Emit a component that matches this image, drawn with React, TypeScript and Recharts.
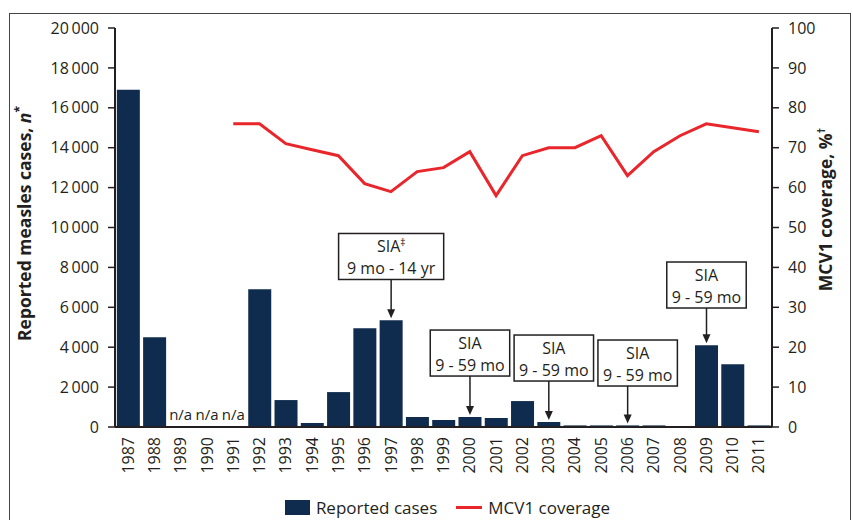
import { ComposedChart, Bar, Line, XAxis, YAxis, Legend, LabelList, ReferenceDot } from 'recharts';

const years = ['1987', '1988', '1989', '1990', '1991', '1992', '1993', '1994', '1995', '1996', '1997', '1998', '1999',
  '2000', '2001', '2002', '2003', '2004', '2005', '2006', '2007', '2008', '2009', '2010', '2011'];
const reportedCases = [16900, 4500, 0, 0, 0, 6900, 1350, 200, 1750, 4950, 5350, 500, 350,
  500, 450, 1300, 250, 80, 80, 80, 80, 0, 4100, 3150, 80];
const mcv1Coverage = [null, null, null, null, 76, 76, 71, 69.5, 68, 61, 59, 64, 65,
  69, 58, 68, 70, 70, 73, 63, 69, 73, 76, 75, 74];
const naYears = ['1989', '1990', '1991'];

const casesTicks = [0, 2000, 4000, 6000, 8000, 10000, 12000, 14000, 16000, 18000, 20000];
const coverageTicks = [0, 10, 20, 30, 40, 50, 60, 70, 80, 90, 100];

// SIA call-outs, box top given in reported-cases units
const siaYears = ['1997', '2000', '2003', '2006', '2009'];
const siaMarks = ['‡', '', '', '', ''];
const siaAges = ['9 mo - 14 yr', '9 - 59 mo', '9 - 59 mo', '9 - 59 mo', '9 - 59 mo'];
const siaBoxTop = [9700, 4860, 4610, 4360, 8270];

const data = years.map((year, i) => ({ year, cases: reportedCases[i], coverage: mcv1Coverage[i] }));

const FONT = "'Open Sans', 'Noto Sans', sans-serif";
const INK = '#231f20';
const NAVY = '#0f2b4d';
const RED = '#e8262b';
const boxShift: Record<string, number> = { '2003': 5, '2006': 10 };

const fmt = (v: number) => (v >= 1000 ? `${Math.floor(v / 1000)}\u2009${String(v % 1000).padStart(3, '0')}` : `${v}`);

// label value is the year; bar geometry gives the scale
const SiaLabel = (props: any) => {
  const vb = props.viewBox ?? props;
  const { x, y, width, height } = vb;
  const year = String(props.value);
  const k = siaYears.indexOf(year);
  const cases = reportedCases[years.indexOf(year)];
  if (k < 0 || !cases || !height) return null;
  const pxPerUnit = height / cases;
  const base = y + height;
  const top = base - siaBoxTop[k] * pxPerUnit;
  const cx = x + width / 2;
  const w = siaAges[k].length * 8.55 + 2.5;
  const bx = cx + (boxShift[year] ?? 0) - w / 2;
  const bh = 46;
  const tip = y - 2;
  return (
    <g>
      <rect x={bx} y={top} width={w} height={bh} fill="#fff" stroke={INK} strokeWidth={1.5} />
      <text x={bx + w / 2} y={top + 19} textAnchor="middle" fontSize={16} fill={INK} fontFamily={FONT}>
        SIA{siaMarks[k] && <tspan dy={-6} fontSize={10}>{siaMarks[k]}</tspan>}
      </text>
      <text x={bx + w / 2} y={top + 41} textAnchor="middle" fontSize={16} fill={INK} fontFamily={FONT}>
        {siaAges[k]}
      </text>
      <line x1={cx} y1={top + bh} x2={cx} y2={tip - 8} stroke={INK} strokeWidth={1.5} />
      <polygon points={`${cx - 4},${tip - 9} ${cx + 4},${tip - 9} ${cx},${tip}`} fill={INK} />
    </g>
  );
};

const YearTick = ({ x, y, payload }: any) => (
  <text x={x} y={y} transform={`rotate(-90, ${x}, ${y})`} textAnchor="end" dy="0.35em"
    fontSize={16} fill={INK} fontFamily={FONT}>
    {payload.value}
  </text>
);

const LegendContent = () => (
  <div style={{ height: 30, display: 'flex', alignItems: 'center', justifyContent: 'center', paddingLeft: 42,
    paddingTop: 4, boxSizing: 'border-box', fontFamily: FONT, fontSize: 17, color: INK }}>
    <span style={{ width: 25, height: 15, background: NAVY, display: 'inline-block', marginRight: 6 }} />
    <span>Reported cases</span>
    <span style={{ width: 26, height: 3, background: RED, display: 'inline-block', marginLeft: 19, marginRight: 6 }} />
    <span>MCV1 coverage</span>
  </div>
);

const App = () => {
  return (
    <div style={{ position: 'absolute', left: 0, top: 0, width: 853, height: 520, background: '#fff', overflow: 'hidden' }}>
      <div style={{ position: 'absolute', left: 9, top: 13, width: 840, height: 530, border: '1px solid #444' }} />
      <ComposedChart width={853} height={520} data={data} margin={{ top: 28, right: 0, left: 0, bottom: 0 }}
        barCategoryGap="7%">
        <XAxis dataKey="year" interval={0} tickLine={false} tickSize={0} tickMargin={10} height={63}
          axisLine={{ stroke: INK, strokeWidth: 2 }} tick={<YearTick />} yAxisId="left" />
        <YAxis yAxisId="left" width={115} domain={[0, 20000]} ticks={casesTicks} tickFormatter={fmt}
          tickSize={7} tickMargin={9} axisLine={{ stroke: INK, strokeWidth: 2 }}
          tickLine={{ stroke: INK, strokeWidth: 1.5 }}
          tick={{ fill: INK, fontSize: 16, fontFamily: FONT }}
          label={{
            content: ({ viewBox }: any) => (
              <text x={0} y={0} transform={`translate(${(viewBox?.x ?? 0) + 31}, ${(viewBox?.y ?? 28) + (viewBox?.height ?? 399) / 2 - 4}) rotate(-90)`}
                textAnchor="middle" fontSize={17.5} fontWeight="bold" fill={INK} fontFamily={FONT}>
                Reported measles cases, <tspan fontStyle="italic">n</tspan><tspan dy={-7} fontSize={12}>*</tspan>
              </text>
            ),
          }} />
        <YAxis yAxisId="right" orientation="right" width={81} domain={[0, 100]} ticks={coverageTicks}
          tickSize={7} tickMargin={9} axisLine={{ stroke: INK, strokeWidth: 2 }}
          tickLine={{ stroke: INK, strokeWidth: 1.5 }}
          tick={{ fill: INK, fontSize: 16, fontFamily: FONT }}
          label={{
            content: ({ viewBox }: any) => (
              <text x={0} y={0} transform={`translate(${(viewBox?.x ?? 772) + 60}, ${(viewBox?.y ?? 28) + (viewBox?.height ?? 399) / 2 - 18}) rotate(-90)`}
                textAnchor="middle" fontSize={17.5} fontWeight="bold" fill={INK} fontFamily={FONT}>
                MCV1 coverage, %<tspan dy={-7} fontSize={11}>†</tspan>
              </text>
            ),
          }} />
        <Legend verticalAlign="bottom" content={<LegendContent />} />
        <Bar yAxisId="left" dataKey="cases" name="Reported cases" fill={NAVY} isAnimationActive={false}>
          <LabelList dataKey="year" content={<SiaLabel />} />
        </Bar>
        <Line yAxisId="right" dataKey="coverage" name="MCV1 coverage" stroke={RED} strokeWidth={3}
          dot={false} activeDot={false} isAnimationActive={false} strokeLinejoin="miter" />
        {naYears.map((yr) => (
          <ReferenceDot key={yr} yAxisId="left" x={yr} y={0} r={0}
            shape={(p: any) => (
              <text x={p.cx} y={p.cy - 7} textAnchor="middle" fontSize={15} fill={INK} fontFamily={FONT}>n/a</text>
            )} />
        ))}
      </ComposedChart>
    </div>
  );
};

export default App;
